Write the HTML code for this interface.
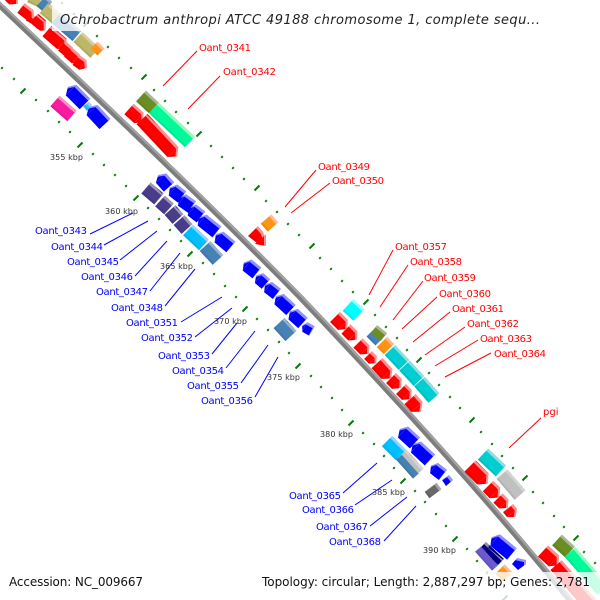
<!DOCTYPE html>
<html>
<head>
<meta charset="utf-8">
<style>
html,body{margin:0;padding:0;background:#fff}
svg{display:block}
text{font-family:"DejaVu Sans","Liberation Sans",sans-serif}
.l text{font-size:10px}
.r text{fill:#f00}
.b text{fill:#00f}
.k text{font-size:8px;fill:#333}
.g line{stroke-linecap:butt}
</style>
</head>
<body>
<svg width="600" height="600" viewBox="0 0 600 600" xmlns="http://www.w3.org/2000/svg">
<defs>
<marker id="mr" viewBox="0 0 .42 1" markerWidth=".42" markerHeight="1" refX=".01" refY=".5" orient="auto"><polygon points="0,0 .42,.5 0,1" fill="#f00"/></marker>
<marker id="mb" viewBox="0 0 .3 1" markerWidth=".3" markerHeight="1" refX=".01" refY=".5" orient="auto"><polygon points="0,0 .3,.5 0,1" fill="#00f"/></marker>
<filter id="f" filterUnits="userSpaceOnUse" x="0" y="0" width="600" height="600">
<feOffset in="SourceAlpha" dx="-2" dy="2" result="o1"/>
<feComposite in="SourceAlpha" in2="o1" operator="out" result="e1"/>
<feFlood flood-color="#fff" flood-opacity=".28"/>
<feComposite in2="e1" operator="in" result="hi"/>
<feOffset in="SourceAlpha" dx="1.5" dy="-1.5" result="o2"/>
<feComposite in="SourceAlpha" in2="o2" operator="out" result="e2"/>
<feFlood flood-color="#000" flood-opacity=".14"/>
<feComposite in2="e2" operator="in" result="lo"/>
<feMerge><feMergeNode in="SourceGraphic"/><feMergeNode in="hi"/><feMergeNode in="lo"/></feMerge>
</filter>
</defs>
<rect width="600" height="600" fill="#fff"/>

<!-- ticks -->
<path fill="none" stroke="#0a7a0a" stroke-width="1.9" transform="translate(-.8,.8)" d="
M62 3l1.6 -1.6M74 14l1.6 -1.6M97 36l1.6 -1.6M108 47l1.6 -1.6M119 58l1.6 -1.6M131 68l1.6 -1.6M154 90l1.6 -1.6M165 101l1.6 -1.6M176 112l1.6 -1.6M188 123l1.6 -1.6M211 146l1.6 -1.6M222 157l1.6 -1.6M233 168l1.6 -1.6M244 179l1.6 -1.6M266 201l1.6 -1.6M277 212l1.6 -1.6M288 224l1.6 -1.6M299 235l1.6 -1.6M320 258l1.6 -1.6M331 269l1.6 -1.6M342 281l1.6 -1.6M353 292l1.6 -1.6M375 315l1.6 -1.6M386 327l1.6 -1.6M397 338l1.6 -1.6M407 350l1.6 -1.6M429 373l1.6 -1.6M439 385l1.6 -1.6M450 397l1.6 -1.6M460 408l1.6 -1.6M481 432l1.6 -1.6M492 444l1.6 -1.6M502 456l1.6 -1.6M513 468l1.6 -1.6M533 492l1.6 -1.6M543 503l1.6 -1.6M554 516l1.6 -1.6M564 527l1.6 -1.6M584 552l1.6 -1.6M595 563l1.6 -1.6
M2 68l1.6 -1.6M14 79l1.6 -1.6M36 100l1.6 -1.6M48 111l1.6 -1.6M59 122l1.6 -1.6M70 132l1.6 -1.6M93 154l1.6 -1.6M104 165l1.6 -1.6M115 175l1.6 -1.6M126 186l1.6 -1.6M148 208l1.6 -1.6M159 219l1.6 -1.6M170 230l1.6 -1.6M181 241l1.6 -1.6M203 263l1.6 -1.6M214 274l1.6 -1.6M225 286l1.6 -1.6M236 297l1.6 -1.6M257 319l1.6 -1.6M268 330l1.6 -1.6M279 342l1.6 -1.6M289 353l1.6 -1.6M311 376l1.6 -1.6M321 387l1.6 -1.6M332 398l1.6 -1.6M342 410l1.6 -1.6M363 433l1.6 -1.6M374 444l1.6 -1.6M384 456l1.6 -1.6M394 468l1.6 -1.6M415 491l1.6 -1.6M425 502l1.6 -1.6M436 514l1.6 -1.6M446 526l1.6 -1.6M467 549l1.6 -1.6M477 561l1.6 -1.6M487 573l1.6 -1.6M497 585l1.6 -1.6"/>
<path fill="none" stroke="#0a7a0a" stroke-width="2.1" transform="translate(-2.5,2.5)" d="
M86 24l5 -5M144 77l5 -5M199 134l5 -5M257 188l5 -5M312 246l5 -5M366 302l5 -5M419 360l5 -5M472 420l5 -5M525 478l5 -5M576 538l5 -5
M23 91l5 -5M80 145l5 -5M136 198l5 -5M190 254l5 -5M245 309l5 -5M298 366l5 -5M351 423l5 -5M403 481l5 -5M455 539l5 -5M505 598l5 -5"/>

<!-- backbone -->
<path d="M-10 -4 C100 100 200 195 300 297 C390 392 490 500 590 625" fill="none" stroke="#7d7d7d" stroke-width="6"/>
<path d="M-10 -4 C100 100 200 195 300 297 C390 392 490 500 590 625" fill="none" stroke="#a2a2a2" stroke-width="2.2" transform="translate(1.2,-1.2)"/>

<!-- genes -->
<g class="g" filter="url(#f)" fill="none">
<!-- top-left outer -->
<line x1="30" y1="-4" x2="41" y2="1" stroke="#bdb76b" stroke-width="13.500"/>
<line x1="41" y1="1" x2="48" y2="7" stroke="#4682b4" stroke-width="13.500"/>
<line x1="44" y1="8" x2="56" y2="18" stroke="#bdb76b" stroke-width="13.500"/>
<line x1="56" y1="18" x2="77" y2="36" stroke="#4682b4" stroke-width="13.500"/>
<line x1="78" y1="37" x2="95" y2="53" stroke="#bdb76b" stroke-width="13.500"/>
<line x1="94" y1="45" x2="101" y2="52" stroke="#ff9412" stroke-width="10"/>
<!-- top-left red -->
<g stroke="#f00">
<line x1="8" y1="-6" x2="14" y2="0" stroke-width="13" marker-end="url(#mr)"/>
<line x1="21" y1="8" x2="30" y2="15" stroke-width="12" marker-end="url(#mr)"/>
<line x1="28" y1="17" x2="33" y2="20" stroke-width="8" marker-end="url(#mr)"/>
<line x1="34" y1="18" x2="42" y2="25" stroke-width="12" marker-end="url(#mr)"/>
<line x1="40" y1="25" x2="43" y2="28" stroke-width="8" marker-end="url(#mr)"/>
<line x1="47" y1="31" x2="62" y2="44" stroke-width="14" marker-end="url(#mr)"/>
<line x1="62" y1="46" x2="69" y2="52" stroke-width="12" marker-end="url(#mr)"/>
<line x1="68" y1="52" x2="76" y2="59" stroke-width="12" marker-end="url(#mr)"/>
<line x1="76" y1="60" x2="83" y2="65" stroke-width="12" marker-end="url(#mr)"/>
</g>
<!-- first blue group -->
<line x1="55" y1="101" x2="72" y2="116" stroke="#f81ea0" stroke-width="14"/>
<g stroke="#00f">
<line x1="85" y1="104" x2="71" y2="90" stroke-width="15" marker-end="url(#mb)"/>
<line x1="105" y1="124" x2="92" y2="110" stroke-width="15" marker-end="url(#mb)"/>
</g>
<polygon points="83,106 89,102 92,105 87,111" fill="#2fbcff"/>
<!-- 0341/0342 -->
<line x1="141" y1="96" x2="154" y2="108" stroke="#6b8e23" stroke-width="14.500"/>
<line x1="154" y1="108" x2="190" y2="142" stroke="#00fa9a" stroke-width="14.500"/>
<g stroke="#f00">
<line x1="129" y1="109" x2="139" y2="118" stroke-width="14" marker-end="url(#mr)"/>
<line x1="142" y1="119" x2="173" y2="152" stroke-width="15" marker-end="url(#mr)"/>
</g>
<!-- 0343-0348 -->
<line x1="146" y1="188" x2="159" y2="199" stroke="#483d8b" stroke-width="14.500"/>
<line x1="160" y1="201" x2="169" y2="209" stroke="#483d8b" stroke-width="14.500"/>
<line x1="170" y1="210" x2="178" y2="219" stroke="#483d8b" stroke-width="14.500"/>
<line x1="179" y1="220" x2="187" y2="229" stroke="#483d8b" stroke-width="14.500"/>
<line x1="188" y1="230" x2="204" y2="245" stroke="#00bfff" stroke-width="14.500"/>
<line x1="205" y1="246" x2="218" y2="260" stroke="#4682b4" stroke-width="14.500"/>
<g stroke="#00f">
<line x1="169" y1="187" x2="161" y2="178" stroke-width="14" marker-end="url(#mb)"/>
<line x1="182" y1="197" x2="173" y2="190" stroke-width="14" marker-end="url(#mb)"/>
<line x1="192" y1="207" x2="182" y2="200" stroke-width="14" marker-end="url(#mb)"/>
<line x1="201" y1="217" x2="192" y2="210" stroke-width="14" marker-end="url(#mb)"/>
<line x1="217" y1="232" x2="202" y2="220" stroke-width="14" marker-end="url(#mb)"/>
<line x1="231" y1="247" x2="219" y2="237" stroke-width="14" marker-end="url(#mb)"/>
<line x1="257" y1="273" x2="247" y2="265" stroke-width="14" marker-end="url(#mb)"/>
<line x1="266" y1="284" x2="259" y2="278" stroke-width="13" marker-end="url(#mb)"/>
<line x1="277" y1="294" x2="268" y2="287" stroke-width="13" marker-end="url(#mb)"/>
<line x1="291" y1="310" x2="279" y2="299" stroke-width="14" marker-end="url(#mb)"/>
<line x1="303" y1="323" x2="293" y2="314" stroke-width="14" marker-end="url(#mb)"/>
<line x1="312" y1="331" x2="305" y2="327" stroke-width="11" marker-end="url(#mb)"/>
</g>
<line x1="279" y1="323" x2="291" y2="336" stroke="#4682b4" stroke-width="15"/>
<!-- 0349/0350 -->
<line x1="266" y1="219" x2="273" y2="227" stroke="#ff9412" stroke-width="14"/>
<polygon points="248,236 258,226 263,232 265,238 257,243" fill="#f00"/>
<polygon points="255,244 266,234 266,246" fill="#f00"/>
<!-- 0357-0364 -->
<line x1="348" y1="305" x2="359" y2="315" stroke="#0ff" stroke-width="16"/>
<line x1="370" y1="333" x2="379" y2="342" stroke="#4682b4" stroke-width="10"/>
<line x1="374" y1="329" x2="384" y2="337" stroke="#6b8e23" stroke-width="10"/>
<line x1="382" y1="342" x2="389" y2="349" stroke="#ff9412" stroke-width="14.500"/>
<line x1="390" y1="350" x2="404" y2="365" stroke="#00ced1" stroke-width="14.500"/>
<line x1="404.500" y1="365.500" x2="419" y2="381" stroke="#00ced1" stroke-width="14.500"/>
<line x1="419.500" y1="381.500" x2="434" y2="398" stroke="#00ced1" stroke-width="14.500"/>
<g stroke="#f00">
<line x1="335" y1="317" x2="343" y2="325" stroke-width="14" marker-end="url(#mr)"/>
<line x1="346" y1="329" x2="353" y2="336" stroke-width="13" marker-end="url(#mr)"/>
<line x1="358" y1="343" x2="365" y2="350" stroke-width="13" marker-end="url(#mr)"/>
<line x1="368" y1="355" x2="373" y2="360" stroke-width="11" marker-end="url(#mr)"/>
<line x1="377" y1="363" x2="387" y2="374" stroke-width="15" marker-end="url(#mr)"/>
<line x1="391" y1="378" x2="397" y2="384" stroke-width="14" marker-end="url(#mr)"/>
<line x1="401" y1="389" x2="407" y2="395" stroke-width="14" marker-end="url(#mr)"/>
<line x1="410" y1="399" x2="417" y2="407" stroke-width="15" marker-end="url(#mr)"/>
</g>
<!-- pgi -->
<line x1="483" y1="454" x2="501" y2="471" stroke="#00ced1" stroke-width="15"/>
<line x1="502" y1="474" x2="520" y2="495" stroke="#c0c0c0" stroke-width="14.500"/>
<g stroke="#f00">
<line x1="470" y1="466" x2="483" y2="479" stroke-width="16" marker-end="url(#mr)"/>
<line x1="488" y1="486" x2="495" y2="493" stroke-width="15" marker-end="url(#mr)"/>
<line x1="498" y1="498" x2="504" y2="504" stroke-width="13" marker-end="url(#mr)"/>
<line x1="508" y1="508" x2="512" y2="513" stroke-width="13" marker-end="url(#mr)"/>
</g>
<!-- 0365-0368 -->
<line x1="387" y1="441" x2="401" y2="455" stroke="#00bfff" stroke-width="14.500"/>
<line x1="399" y1="457" x2="416" y2="476" stroke="#4682b4" stroke-width="8"/>
<line x1="404" y1="452" x2="421" y2="471" stroke="#c0c0c0" stroke-width="7"/>
<g stroke="#00f">
<line x1="415" y1="443" x2="403" y2="432" stroke-width="15" marker-end="url(#mb)"/>
<line x1="430" y1="460" x2="416" y2="447" stroke-width="15" marker-end="url(#mb)"/>
<line x1="443" y1="475" x2="434" y2="468" stroke-width="13" marker-end="url(#mb)"/>
<line x1="512" y1="554" x2="495" y2="540" stroke-width="15" marker-end="url(#mb)"/>
</g>
<polygon points="442,480 449,475 453,480 446,486" fill="#00f"/>
<line x1="427" y1="495" x2="439" y2="486" stroke="#696969" stroke-width="8"/>
<!-- bottom -->
<line x1="483" y1="545" x2="501" y2="562" stroke="#000080" stroke-width="8.500"/>
<line x1="478" y1="549" x2="495" y2="568" stroke="#6a5acd" stroke-width="8"/>
<polygon points="512,564 517,558 526,560 526,564 518,570" fill="#00f"/>
<line x1="500" y1="569" x2="508" y2="577" stroke="#ff9412" stroke-width="13"/>
<line x1="557" y1="540" x2="570" y2="552" stroke="#6b8e23" stroke-width="14.500"/>
<line x1="570" y1="552" x2="603" y2="590" stroke="#00fa9a" stroke-width="14.500"/>
<g stroke="#f00">
<line x1="543" y1="551" x2="554" y2="561" stroke-width="15" marker-end="url(#mr)"/>
<line x1="556" y1="565" x2="590" y2="604" stroke-width="15" marker-end="url(#mr)"/>
</g>
</g>

<!-- connectors -->
<g stroke-width="1" fill="none" stroke="#f00">
<path d="M163 86L197 51M188 109L220 76M285 207L316 170M291 213L330 183M369 295L393 250M380 307L408 265M393 320L423 281M402 329L437 297M413 342L450 312M425 355L465 327M435 366L478 340M445 377L491 353M509 448L541 418"/>
</g>
<g stroke-width="1" fill="none" stroke="#00f">
<path d="M90 234L133 213M104 245L148 221M120 260L157 231M135 276L167 241M150 291L180 253M165 306L195 269M181 322L222 297M195 337L232 308M212 354L237 323M226 368L255 331M241 383L268 345M255 397L278 357M343 493L377 463M355 505L392 480M370 526L407 497M384 541L416 506"/>
</g>

<!-- kbp labels -->
<g class="k">
<text x="50" y="160" textLength="33" lengthAdjust="spacing">355 kbp</text>
<text x="105" y="214" textLength="33" lengthAdjust="spacing">360 kbp</text>
<text x="160" y="269" textLength="33" lengthAdjust="spacing">365 kbp</text>
<text x="214" y="324" textLength="33" lengthAdjust="spacing">370 kbp</text>
<text x="267" y="380" textLength="33" lengthAdjust="spacing">375 kbp</text>
<text x="320" y="437" textLength="33" lengthAdjust="spacing">380 kbp</text>
<text x="372" y="495" textLength="33" lengthAdjust="spacing">385 kbp</text>
<text x="423" y="553" textLength="33" lengthAdjust="spacing">390 kbp</text>
</g>

<!-- gene labels -->
<g class="l r">
<text x="199" y="51" textLength="52" lengthAdjust="spacing">Oant_0341</text>
<text x="223" y="75" textLength="53" lengthAdjust="spacing">Oant_0342</text>
<text x="318" y="170" textLength="52" lengthAdjust="spacing">Oant_0349</text>
<text x="332" y="184" textLength="52" lengthAdjust="spacing">Oant_0350</text>
<text x="395" y="250" textLength="52" lengthAdjust="spacing">Oant_0357</text>
<text x="410" y="265" textLength="52" lengthAdjust="spacing">Oant_0358</text>
<text x="424" y="281" textLength="52" lengthAdjust="spacing">Oant_0359</text>
<text x="439" y="297" textLength="52" lengthAdjust="spacing">Oant_0360</text>
<text x="452" y="312" textLength="52" lengthAdjust="spacing">Oant_0361</text>
<text x="467" y="327" textLength="52" lengthAdjust="spacing">Oant_0362</text>
<text x="480" y="342" textLength="52" lengthAdjust="spacing">Oant_0363</text>
<text x="494" y="357" textLength="52" lengthAdjust="spacing">Oant_0364</text>
<text x="543" y="415">pgi</text>
</g>
<g class="l b">
<text x="35" y="234" textLength="52" lengthAdjust="spacing">Oant_0343</text>
<text x="51" y="250" textLength="52" lengthAdjust="spacing">Oant_0344</text>
<text x="67" y="265" textLength="52" lengthAdjust="spacing">Oant_0345</text>
<text x="81" y="280" textLength="52" lengthAdjust="spacing">Oant_0346</text>
<text x="96" y="295" textLength="52" lengthAdjust="spacing">Oant_0347</text>
<text x="111" y="311" textLength="52" lengthAdjust="spacing">Oant_0348</text>
<text x="126" y="326" textLength="52" lengthAdjust="spacing">Oant_0351</text>
<text x="141" y="341" textLength="52" lengthAdjust="spacing">Oant_0352</text>
<text x="158" y="359" textLength="52" lengthAdjust="spacing">Oant_0353</text>
<text x="172" y="374" textLength="52" lengthAdjust="spacing">Oant_0354</text>
<text x="187" y="389" textLength="52" lengthAdjust="spacing">Oant_0355</text>
<text x="201" y="404" textLength="52" lengthAdjust="spacing">Oant_0356</text>
<text x="289" y="499" textLength="52" lengthAdjust="spacing">Oant_0365</text>
<text x="302" y="513" textLength="52" lengthAdjust="spacing">Oant_0366</text>
<text x="316" y="530" textLength="52" lengthAdjust="spacing">Oant_0367</text>
<text x="329" y="545" textLength="52" lengthAdjust="spacing">Oant_0368</text>
</g>

<!-- overlays -->
<rect x="52" y="0" width="498" height="31" fill="#fff" fill-opacity=".78"/>
<rect x="0" y="572" width="600" height="28" fill="#fff" fill-opacity=".78"/>
<text x="60" y="24" font-size="13" font-style="italic" fill="#222" textLength="480" lengthAdjust="spacing">Ochrobactrum anthropi ATCC 49188 chromosome 1, complete sequ...</text>
<text x="9" y="586" font-size="12" fill="#111" textLength="134" lengthAdjust="spacing">Accession: NC_009667</text>
<text x="262" y="586" font-size="12" fill="#111" textLength="328" lengthAdjust="spacing">Topology: circular; Length: 2,887,297 bp; Genes: 2,781</text>
</svg>
</body>
</html>
